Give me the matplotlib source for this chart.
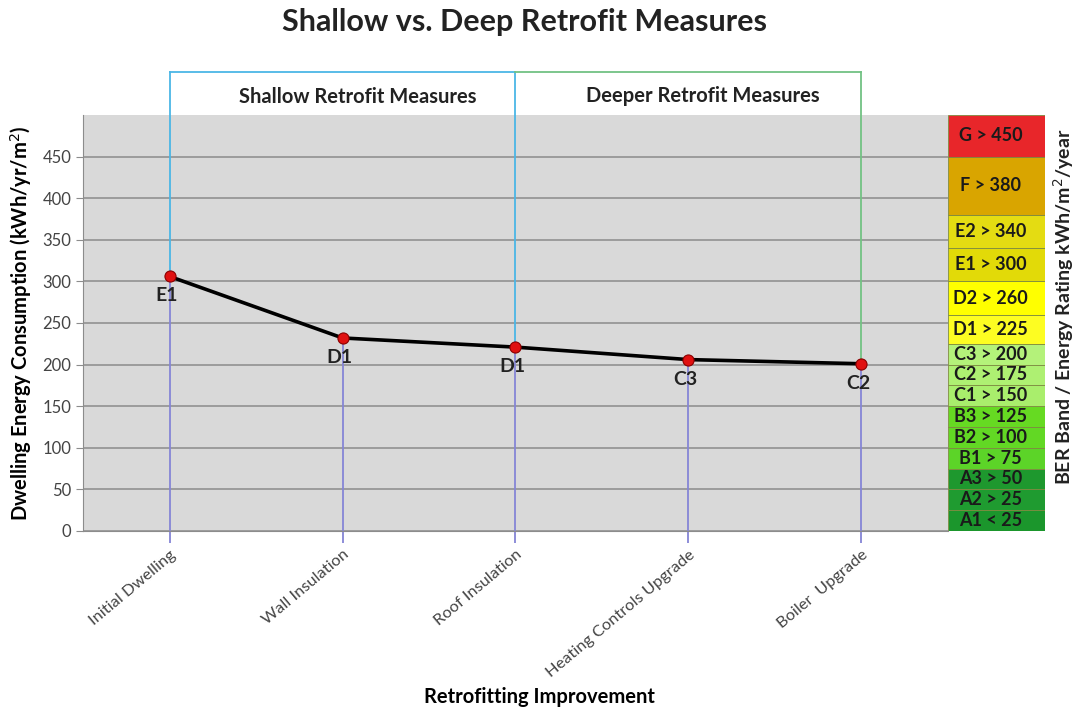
import numpy as np
import matplotlib
matplotlib.use('Agg')
from matplotlib import pyplot as plt

plt.rcParams['font.family'] = ['Lato', 'DejaVu Sans']

# retrofit steps and resulting energy use
steps = ['Initial Dwelling', 'Wall Insulation', 'Roof Insulation',
         'Heating Controls Upgrade', 'Boiler  Upgrade']
energy = [306, 232, 221, 206, 201]
ratings = ['E1', 'D1', 'D1', 'C3', 'C2']

# BER bands: lower bound of each band, its label and colour
band_lower = [0, 25, 50, 75, 100, 125, 150, 175, 200, 225, 260, 300, 340, 380, 450]
band_upper = [25, 50, 75, 100, 125, 150, 175, 200, 225, 260, 300, 340, 380, 450, 500]
band_labels = ['A1 < 25', 'A2 > 25', 'A3 > 50', 'B1 > 75', 'B2 > 100', 'B3 > 125',
               'C1 > 150', 'C2 > 175', 'C3 > 200', 'D1 > 225', 'D2 > 260',
               'E1 > 300', 'E2 > 340', 'F > 380', 'G > 450']
band_colors = ['#1b962c', '#1f9b30', '#1e982e', '#5cd428', '#62d824', '#66da22',
               '#a9ee6c', '#aef072', '#b4f27a', '#fdfd22', '#ffff00',
               '#e2da08', '#e4dc12', '#d9a500', '#e8262a']

fig = plt.figure(figsize=(10.78, 7.13), dpi=100)
ax = fig.add_axes([0.077, 0.2553, 0.8024, 0.5834])
ax.set_facecolor('#d9d9d9')
ax.set_xlim(-0.5, 4.5)
ax.set_ylim(0, 500)
ax.set_yticks(np.arange(0, 451, 50))
ax.grid(axis='y', color='#8c8c8c', linewidth=1.1)
ax.set_axisbelow(True)
for s in ['top', 'right']:
    ax.spines[s].set_visible(False)
ax.spines['left'].set_color('#8c8c8c')
ax.spines['bottom'].set_color('#8c8c8c')

x = np.arange(len(steps))
top = 500 * 1.103  # height of the bracket line above the plot

# drop lines from each point down through the axis
ax.vlines(x, -14, energy, color='#8585d6', linewidth=1.3, clip_on=False, zorder=2)
# bracket risers above the points
riser_colors = {0: '#4bb6e6', 2: '#4bb6e6', 4: '#72c283'}
for i, c in riser_colors.items():
    ax.plot([i, i], [energy[i], top], color=c, linewidth=1.3, clip_on=False, zorder=2)
ax.plot([0, 2], [top, top], color='#4bb6e6', linewidth=1.3, clip_on=False)
ax.plot([2, 4], [top, top], color='#72c283', linewidth=1.3, clip_on=False)
ax.text(1.09, 500 * 1.043, 'Shallow Retrofit Measures', ha='center', va='center',
        fontsize=14.5, fontweight='bold', color='#222222')
ax.text(3.08, 500 * 1.045, 'Deeper Retrofit Measures', ha='center', va='center',
        fontsize=14.5, fontweight='bold', color='#222222')

ax.plot(x, energy, color='black', linewidth=2.6, zorder=3,
        marker='o', markersize=8, markerfacecolor='#e01010', markeredgecolor='#8a0000',
        markeredgewidth=0.8)
for xi, v, r in zip(x, energy, ratings):
    ax.annotate(r, (xi, v), xytext=(-2, -14), textcoords='offset points',
                ha='center', va='center', fontsize=14, fontweight='bold', color='#222222')

ax.set_xticks(x)
ax.set_xticklabels(steps, rotation=40, ha='right', rotation_mode='anchor',
                   fontsize=11.8, color='#444444')
ax.tick_params(axis='x', length=0, pad=12)
ax.tick_params(axis='y', length=5, color='#8c8c8c', labelsize=12, labelcolor='#444444')
ax.set_xlabel('Retrofitting Improvement', fontsize=14.5, fontweight='bold')
ax.xaxis.label.set_va('center')
ax.xaxis.set_label_coords(0.528, -0.400)
ax.set_ylabel('Dwelling Energy Consumption (kWh/yr/m$^2$)', fontsize=14.5,
              fontweight='bold', labelpad=6)

# BER band scale sharing the energy axis
ax2 = fig.add_axes([0.8794, 0.2553, 0.09, 0.5834], sharey=ax)
heights = [u - l for l, u in zip(band_lower, band_upper)]
ax2.bar(0, heights, bottom=band_lower, width=1, color=band_colors,
        edgecolor='#7d8a40', linewidth=0.6)
for l, u, lab in zip(band_lower, band_upper, band_labels):
    ax2.text(-0.06, (l + u) / 2, lab, ha='center', va='center', fontsize=13,
             fontweight='bold', color='#1a1a1a')
ax2.set_xlim(-0.5, 0.5)
ax2.axis('off')
fig.text(0.987, 0.57, 'BER Band / Energy Rating kWh/m$^2$/year', rotation=90,
         ha='center', va='center', fontsize=14, fontweight='bold', color='#222222')

fig.text(0.487, 0.969, 'Shallow vs. Deep Retrofit Measures', ha='center', va='center',
         fontsize=22, fontweight='bold', color='#222222')

fig.savefig('out.png', dpi=100, facecolor='white')
